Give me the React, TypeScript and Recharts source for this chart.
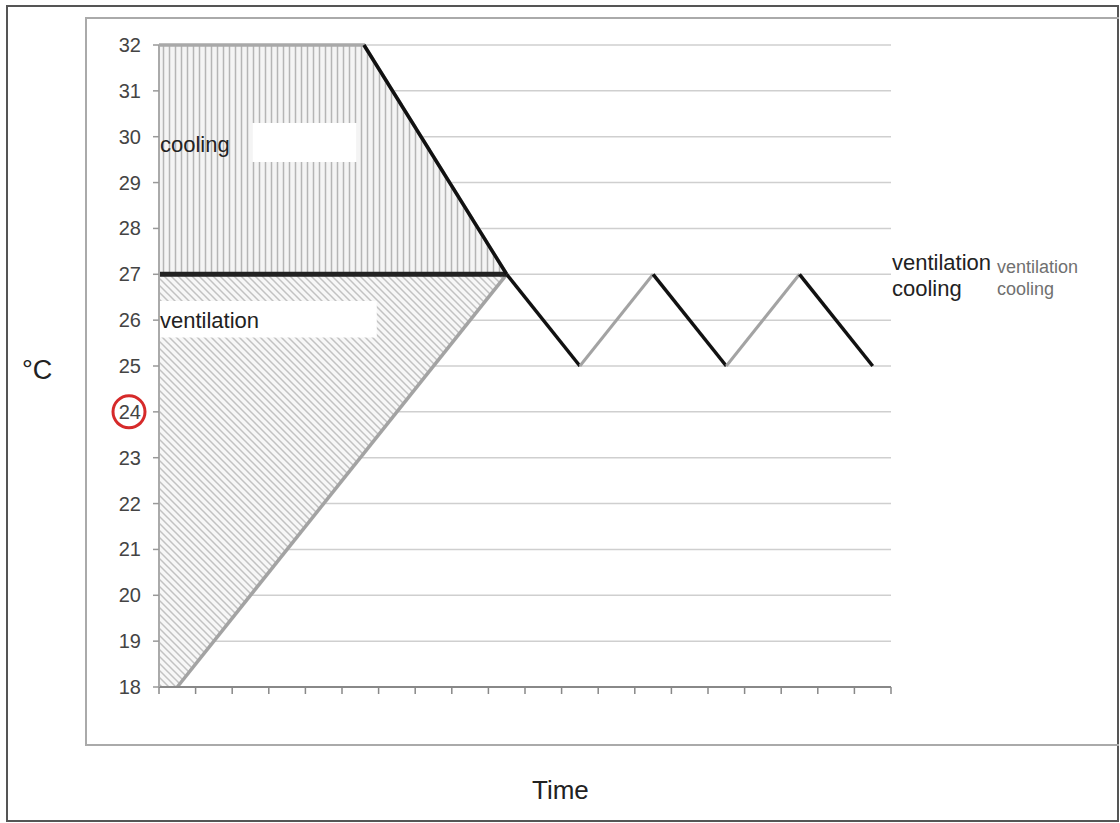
import React from 'react';
import {
  ComposedChart,
  Line,
  Area,
  XAxis,
  YAxis,
  CartesianGrid,
  ReferenceArea,
} from 'recharts';

// time axis runs 0..20 (no labels), temperature 18..32 °C
const xTicks = [0, 1, 2, 3, 4, 5, 6, 7, 8, 9, 10, 11, 12, 13, 14, 15, 16, 17, 18, 19, 20];
const yTicks = [18, 19, 20, 21, 22, 23, 24, 25, 26, 27, 28, 29, 30, 31, 32];

// warm-up from 18 to 27 (ventilation)
const riseT = [0.5, 9.5];
const riseV = [18, 27];
// cool-down from 32 to 27
const dropT = [5.6, 9.5];
const dropV = [32, 27];
// switching threshold
const setpointT = [0, 9.5];
const setpointV = [27, 27];
// cycling between 27 and 25
const cycleT = [9.5, 11.5, 13.5, 15.5, 17.5, 19.5];
const cycleV = [27, 25, 27, 25, 27, 25];
// zones
const coolZoneT = [0, 5.6, 9.5];
const coolZoneLo = [27, 27, 27];
const coolZoneHi = [32, 32, 27];
const ventZoneT = [0, 0.5, 9.5];
const ventZoneLo = [18, 18, 27];
const ventZoneHi = [27, 27, 27];

const allT = Array.from(
  new Set([...riseT, ...dropT, ...setpointT, ...cycleT, ...coolZoneT, ...ventZoneT])
).sort((a, b) => a - b);

const rows: any[] = allT.map((t) => ({ t }));
function put(key: string, ts: number[], vs: any[]) {
  ts.forEach((t, i) => {
    const row = rows.find((r) => r.t === t);
    row[key] = vs[i];
  });
}
put('rise', riseT, riseV);
put('drop', dropT, dropV);
put('setpoint', setpointT, setpointV);
put('cool', coolZoneT, coolZoneLo.map((lo, i) => [lo, coolZoneHi[i]]));
put('vent', ventZoneT, ventZoneLo.map((lo, i) => [lo, ventZoneHi[i]]));
const cycleKeys: string[] = [];
for (let k = 0; k < cycleT.length - 1; k++) {
  const key = 'cyc' + k;
  cycleKeys.push(key);
  put(key, [cycleT[k], cycleT[k + 1]], [cycleV[k], cycleV[k + 1]]);
}

const font = '"Liberation Sans", Arial, sans-serif';

function YTick(props: any) {
  const { x, y, payload } = props;
  return (
    <g>
      <text x={x} y={y} dy={7} textAnchor="end" fill="#444" fontSize={20} fontFamily={font}>
        {payload.value}
      </text>
      {payload.value === 24 && (
        <circle cx={x - 12} cy={y} r={16} fill="none" stroke="#d62a2a" strokeWidth={3} />
      )}
    </g>
  );
}

export default function App() {
  return (
    <div
      style={{
        position: 'absolute',
        left: 0,
        top: 0,
        width: 1120,
        height: 823,
        background: '#fff',
        fontFamily: font,
      }}
    >
      <div
        style={{
          position: 'absolute',
          left: 6,
          top: 5,
          width: 1109,
          height: 813,
          border: '2px solid #555',
        }}
      />
      <div
        style={{
          position: 'absolute',
          left: 85,
          top: 17,
          width: 1032,
          height: 725,
          borderLeft: '2px solid #aaa',
          borderTop: '2px solid #aaa',
          borderBottom: '2px solid #aaa',
        }}
      />
      <div style={{ position: 'absolute', left: 0, top: 0 }}>
        <ComposedChart
          width={1120}
          height={823}
          data={rows}
          margin={{ top: 45, right: 229, bottom: 106, left: 99 }}
        >
          <defs>
            <pattern id="vstripes" width="6" height="10" patternUnits="userSpaceOnUse">
              <rect width="6" height="10" fill="#f4f4f4" />
              <line x1="1.5" y1="0" x2="1.5" y2="10" stroke="#b5b5b5" strokeWidth="1.5" />
            </pattern>
            <pattern id="dstripes" width="7" height="7" patternUnits="userSpaceOnUse">
              <rect width="7" height="7" fill="#f7f7f7" />
              <path d="M0,0 L7,7 M-1,6 L1,8 M6,-1 L8,1" stroke="#c2c2c2" strokeWidth="1.5" />
            </pattern>
          </defs>
          <CartesianGrid vertical={false} stroke="#cfcfcf" strokeWidth={1.5} />
          <XAxis
            type="number"
            dataKey="t"
            domain={[0, 20]}
            ticks={xTicks}
            interval={0}
            tickFormatter={() => ''}
            height={30}
            axisLine={{ stroke: '#888', strokeWidth: 2 }}
            tickLine={{ stroke: '#888', strokeWidth: 1.5 }}
            tickSize={7}
          />
          <YAxis
            type="number"
            domain={[18, 32]}
            ticks={yTicks}
            interval={0}
            width={60}
            tick={<YTick />}
            tickSize={6}
            tickMargin={12}
            axisLine={{ stroke: '#aaa', strokeWidth: 2 }}
            tickLine={{ stroke: '#999', strokeWidth: 1.5 }}
          />
          <Area
            dataKey="vent"
            type="linear"
            fill="url(#dstripes)"
            fillOpacity={1}
            stroke="none"
            connectNulls
            isAnimationActive={false}
            dot={false}
            activeDot={false}
          />
          <Area
            dataKey="cool"
            type="linear"
            fill="url(#vstripes)"
            fillOpacity={1}
            stroke="#a9a9a9"
            strokeWidth={3.5}
            connectNulls
            isAnimationActive={false}
            dot={false}
            activeDot={false}
          />
          <ReferenceArea x1={2.55} x2={5.4} y1={29.45} y2={30.3} fill="#fff" fillOpacity={1} stroke="none" />
          <ReferenceArea x1={0} x2={5.95} y1={25.62} y2={26.42} fill="#fff" fillOpacity={1} stroke="none" />
          <Line
            dataKey="rise"
            type="linear"
            stroke="#a3a3a3"
            strokeWidth={3.5}
            dot={false}
            activeDot={false}
            connectNulls
            isAnimationActive={false}
          />
          {cycleKeys.map((key, k) => (
            <Line
              key={key}
              dataKey={key}
              type="linear"
              stroke={k % 2 === 0 ? '#111' : '#a3a3a3'}
              strokeWidth={k % 2 === 0 ? 3.5 : 3}
              dot={false}
              activeDot={false}
              connectNulls
              isAnimationActive={false}
            />
          ))}
          <Line
            dataKey="setpoint"
            type="linear"
            stroke="#222"
            strokeWidth={5}
            dot={false}
            activeDot={false}
            connectNulls
            isAnimationActive={false}
          />
          <Line
            dataKey="drop"
            type="linear"
            stroke="#111"
            strokeWidth={3.5}
            dot={false}
            activeDot={false}
            connectNulls
            isAnimationActive={false}
          />
        </ComposedChart>
      </div>
      <div style={{ position: 'absolute', left: 160, top: 133, fontSize: 22, lineHeight: '24px', color: '#222' }}>
        cooling
      </div>
      <div style={{ position: 'absolute', left: 160, top: 309, fontSize: 22, lineHeight: '24px', color: '#222' }}>
        ventilation
      </div>
      <div style={{ position: 'absolute', left: 892, top: 250, fontSize: 22, lineHeight: '26px', color: '#222' }}>
        ventilation
        <br />
        cooling
      </div>
      <div style={{ position: 'absolute', left: 997, top: 256, fontSize: 18, lineHeight: '22px', color: '#707070' }}>
        ventilation
        <br />
        cooling
      </div>
      <div style={{ position: 'absolute', left: 22, top: 355, fontSize: 27, lineHeight: '30px', color: '#222' }}>
        °C
      </div>
      <div style={{ position: 'absolute', left: 532, top: 776, fontSize: 26, lineHeight: '28px', color: '#222' }}>
        Time
      </div>
    </div>
  );
}
